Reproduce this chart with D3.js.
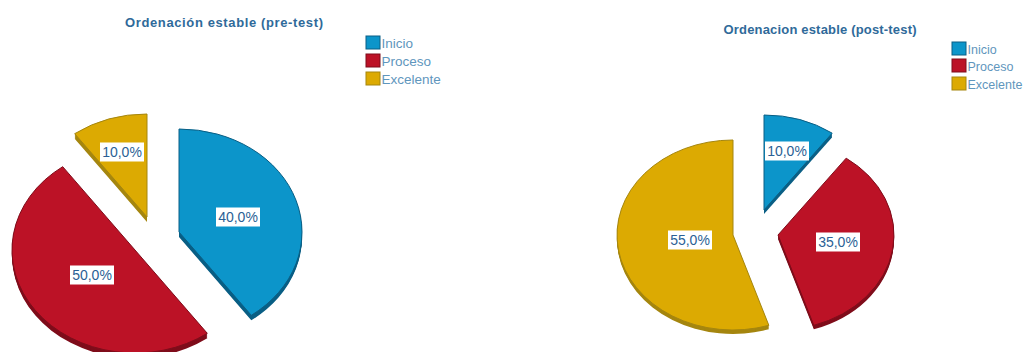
<!DOCTYPE html>
<html lang="es">
<head>
<meta charset="utf-8">
<title>Ordenación estable</title>
<script src="https://cdn.jsdelivr.net/npm/d3@7/dist/d3.min.js"></script>
<style>
  html, body { margin: 0; padding: 0; background: #fff; }
  svg { display: block; font-family: "Liberation Sans", Arial, sans-serif; }
</style>
</head>
<body>
<svg id="chart" width="1025" height="352"></svg>
<script>
// Categories and percentages for the two measurements
const categories = ["Inicio", "Proceso", "Excelente"];
const preTest = [40, 50, 10];
const postTest = [10, 35, 55];
const titles = ["Ordenación estable (pre-test)", "Ordenacion estable (post-test)"];

// Face and side-wall colours per category
const faceColours = ["#0c95ca", "#bc1226", "#dcaa02"];
const wallColours = ["#0a5f85", "#7f0d1b", "#a5860f"];
const textColour = "#2f6a9a";

// Layout of each panel: ellipse radii, and where each exploded slice has its apex
const panels = [
  {
    values: preTest, title: titles[0], titleX: 224, titleY: 27, titleSize: 13, titleWidth: 198,
    rx: 123, ry: 103, depth: 5,
    apex: [[179, 232], [135, 250], [147, 217]],
    legendX: 366, legendY: [36, 54, 72], legendSize: 13.5,
    labels: [[238, 217], [92, 275], [122, 152]]
  },
  {
    values: postTest, title: titles[1], titleX: 820, titleY: 34, titleSize: 13, titleWidth: 193,
    rx: 116, ry: 95, depth: 4,
    apex: [[764, 210], [778, 235], [733, 235]],
    legendX: 952, legendY: [42, 59, 77], legendSize: 12.5,
    labels: [[787, 151], [838, 242], [690, 240]]
  }
];

const svg = d3.select("#chart");
const pieLayout = d3.pie().sort(null).value(d => d);

panels.forEach(panel => {
  const slices = pieLayout(panel.values);
  const arc = d3.arc().innerRadius(0).outerRadius(panel.rx);
  const squash = panel.ry / panel.rx;
  const g = svg.append("g");

  slices.forEach((slice, i) => {
    const [ax, ay] = panel.apex[i];

    // Extruded side: stacked copies of the slice shifted downwards
    d3.range(panel.depth, 0, -1).forEach(offset => {
      g.append("path")
        .attr("d", arc(slice))
        .attr("transform", `translate(${ax},${ay + offset}) scale(1,${squash})`)
        .attr("fill", wallColours[i]);
    });

    // Top face
    g.append("path")
      .attr("d", arc(slice))
      .attr("transform", `translate(${ax},${ay}) scale(1,${squash})`)
      .attr("fill", faceColours[i])
      .attr("stroke", wallColours[i])
      .attr("stroke-width", 1)
      .attr("vector-effect", "non-scaling-stroke");

    // Percentage label on a white plate
    const [lx, ly] = panel.labels[i];
    const label = d3.format(".1f")(panel.values[i]).replace(".", ",") + "%";
    g.append("rect")
      .attr("x", lx - 22).attr("y", ly - 9.5)
      .attr("width", 44).attr("height", 19)
      .attr("fill", "#fff");
    g.append("text")
      .attr("x", lx).attr("y", ly + 5)
      .attr("text-anchor", "middle")
      .attr("font-size", 14)
      .attr("fill", "#2b5f95")
      .text(label);
  });

  // Chart title
  g.append("text")
    .attr("x", panel.titleX).attr("y", panel.titleY)
    .attr("text-anchor", "middle")
    .attr("font-size", panel.titleSize)
    .attr("font-weight", "bold")
    .attr("textLength", panel.titleWidth)
    .attr("fill", textColour)
    .text(panel.title);

  // Legend
  categories.forEach((name, i) => {
    g.append("rect")
      .attr("x", panel.legendX).attr("y", panel.legendY[i])
      .attr("width", 14).attr("height", 13)
      .attr("fill", faceColours[i])
      .attr("stroke", wallColours[i])
      .attr("stroke-width", 1);
    g.append("text")
      .attr("x", panel.legendX + 15.5).attr("y", panel.legendY[i] + 12)
      .attr("font-size", panel.legendSize)
      .attr("fill", "#5f96bd")
      .text(name);
  });
});
</script>
</body>
</html>
